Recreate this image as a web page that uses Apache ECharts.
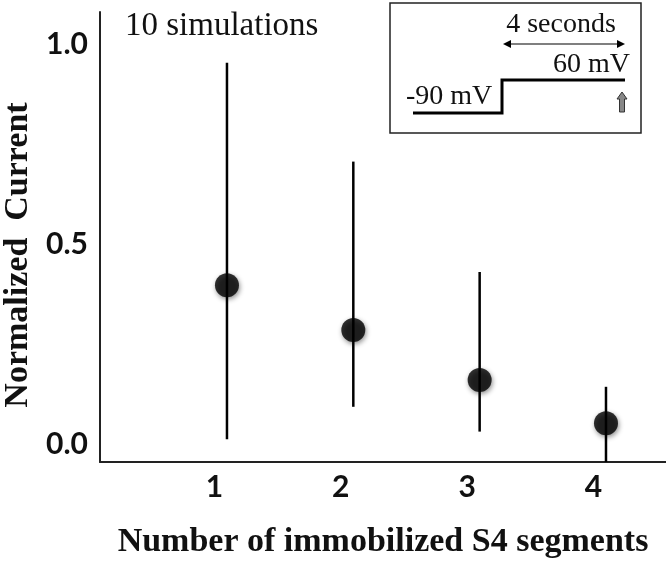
<!DOCTYPE html>
<html>
<head>
<meta charset="utf-8">
<script src="https://cdn.jsdelivr.net/npm/echarts@6/dist/echarts.min.js"></script>
<style>
html,body{margin:0;padding:0;background:#fff;}
#chart{width:666px;height:563px;}
</style>
</head>
<body>
<div id="chart"></div>
<script>
// Data
var segments = [1, 2, 3, 4];
var meanCurrent = [0.397, 0.285, 0.16, 0.052];
var errLow = [0.012, 0.093, 0.031, -0.045];
var errHigh = [0.953, 0.706, 0.43, 0.143];
var yTickValues = [0, 0.5, 1.0];

var serif = '"Liberation Serif", "DejaVu Serif", serif';
var sans = 'Lato, "Open Sans", sans-serif';

var chart = echarts.init(document.getElementById('chart'), null, {renderer: 'canvas'});

var errData = segments.map(function (s, i) { return [s, errLow[i], errHigh[i]]; });
var ptData = segments.map(function (s, i) { return [s, meanCurrent[i]]; });

var option = {
  backgroundColor: '#fff',
  animation: false,
  grid: {left: 100, right: 0, top: 12, bottom: 101, containLabel: false, outerBoundsMode: 'none'},
  xAxis: {
    type: 'value', min: -0.005, max: 4.475,
    axisLine: {show: true, onZero: false, lineStyle: {color: '#222', width: 2}},
    axisTick: {show: false},
    splitLine: {show: false},
    axisLabel: {
      customValues: segments,
      fontFamily: sans, fontWeight: 'bold', fontSize: 30, color: '#111',
      margin: 10, padding: [0, 25, 0, 0]
    },
    name: 'Number of immobilized S4 segments',
    nameLocation: 'middle', nameGap: 63,
    nameTextStyle: {fontFamily: serif, fontWeight: 'bold', fontSize: 34, color: '#111'}
  },
  yAxis: {
    type: 'value', min: -0.045, max: 1.08,
    axisLine: {show: true, onZero: false, lineStyle: {color: '#222', width: 2}},
    axisTick: {show: false},
    splitLine: {show: false},
    axisLabel: {
      customValues: yTickValues,
      formatter: function (v) { return v.toFixed(1); },
      fontFamily: sans, fontWeight: 'bold', fontSize: 30, color: '#111', margin: 12
    },
    name: 'Normalized  Current',
    nameLocation: 'middle', nameGap: 54, nameRotate: 90,
    nameTextStyle: {fontFamily: serif, fontWeight: 'bold', fontSize: 34, color: '#111', padding: [0, 36, 0, 0]}
  },
  series: [
    {
      type: 'custom',
      data: errData,
      z: 2,
      renderItem: function (params, api) {
        var lo = api.coord([api.value(0), api.value(1)]);
        var hi = api.coord([api.value(0), api.value(2)]);
        return {
          type: 'line',
          shape: {x1: lo[0], y1: lo[1], x2: hi[0], y2: hi[1]},
          style: {stroke: '#000', lineWidth: 2.5}
        };
      }
    },
    {
      type: 'scatter',
      data: ptData,
      z: 3,
      symbol: 'circle',
      symbolSize: 24,
      itemStyle: {color: '#000', shadowBlur: 5, shadowColor: 'rgba(0,0,0,0.55)', shadowOffsetX: 1, shadowOffsetY: 2}
    }
  ],
  graphic: [
    {type: 'text', left: 125, top: 10, style: {text: '10 simulations', font: '33px ' + serif, fill: '#111'}},
    {type: 'rect', shape: {x: 390, y: 3, width: 251, height: 130}, style: {fill: '#fff', stroke: '#222', lineWidth: 1.5}, z: 10},
    {type: 'polyline', shape: {points: [[413,113],[502,113],[502,80],[625,80]]}, style: {stroke: '#000', lineWidth: 3, fill: null}, z: 11},
    {type: 'text', x: 406, y: 97, style: {text: '-90 mV', font: '28px ' + serif, fill: '#111', textAlign: 'left', textVerticalAlign: 'middle'}, z: 11},
    {type: 'text', x: 630, y: 65, style: {text: '60 mV', font: '28px ' + serif, fill: '#111', textAlign: 'right', textVerticalAlign: 'middle'}, z: 11},
    {type: 'text', x: 561, y: 25, style: {text: '4 seconds', font: '28px ' + serif, fill: '#111', textAlign: 'center', textVerticalAlign: 'middle'}, z: 11},
    {type: 'line', shape: {x1: 505, y1: 44, x2: 623, y2: 44}, style: {stroke: '#000', lineWidth: 1.2}, z: 11},
    {type: 'polygon', shape: {points: [[503,44],[511,40],[511,48]]}, style: {fill: '#000'}, z: 11},
    {type: 'polygon', shape: {points: [[625,44],[617,40],[617,48]]}, style: {fill: '#000'}, z: 11},
    {type: 'polygon', shape: {points: [[622,92],[627,99],[624.5,99],[624.5,112],[619.5,112],[619.5,99],[617,99]]}, style: {fill: '#888', stroke: '#333', lineWidth: 1}, z: 11}
  ]
};
chart.setOption(option);
</script>
</body>
</html>
